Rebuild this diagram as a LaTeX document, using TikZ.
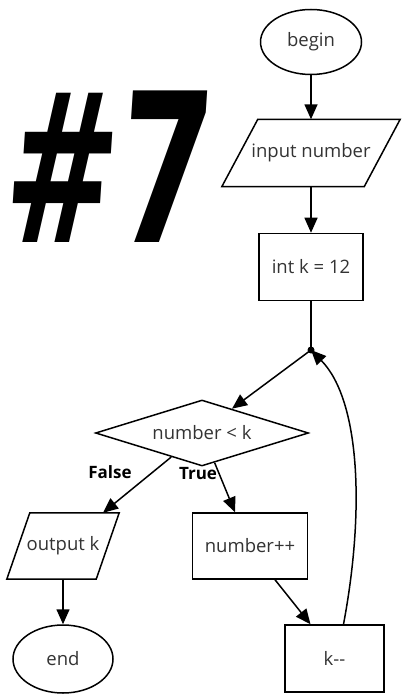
\documentclass[tikz,border=0pt]{standalone}
\usepackage{fontspec}
\setmainfont{Open Sans}
\newfontfamily\bigfont{DejaVu Sans}
\usetikzlibrary{shapes.geometric,arrows.meta,calc}
\begin{document}
\begin{tikzpicture}[x=1pt,y=-1pt,
  every node/.style={font=\fontsize{18.5}{20}\selectfont, text=black!80},
  line/.style={line width=1.5pt},
  arr/.style={line width=1.5pt,-{Triangle[length=15pt,width=13pt]}},
  proc/.style={draw,line width=1.5pt,inner sep=0pt},
  term/.style={draw,ellipse,line width=1.5pt,inner sep=0pt},
  io/.style={inner sep=0pt},
  dec/.style={draw,diamond,aspect=3,line width=1.5pt,inner sep=0pt},
  lab/.style={font=\bfseries\fontsize{17}{19}\selectfont, text=black}]
\useasboundingbox (0,0) rectangle (410,700);
\node[font=\bigfont\bfseries\fontsize{208}{208}\selectfont, text=black, xscale=0.65, xslant=0.1, anchor=base west, inner sep=0pt] (title) at (1,243) {\raisebox{0pt}[\height][0pt]{\#7}};
\node[term, minimum width=101, minimum height=65] (begin) at (311,42) {begin};
\node[io, minimum width=142, minimum height=67] (inp) at (311,153) {input number};
\draw[line] ($(inp.north west)+(18,0)$) -- ($(inp.north east)+(18,0)$) -- ($(inp.south east)+(-18,0)$) -- ($(inp.south west)+(-18,0)$) -- cycle;
\node[proc, minimum width=104, minimum height=67] (init) at (311,267) {int k = 12};
\coordinate (j) at (311,350);
\fill (j) circle (3.5);
\node[dec, minimum width=213, minimum height=66] (dec) at (202,433) {number < k};
\node[io, minimum width=89, minimum height=66] (outk) at (63,546) {output k};
\draw[line] ($(outk.north west)+(11.5,0)$) -- ($(outk.north east)+(11.5,0)$) -- ($(outk.south east)+(-11.5,0)$) -- ($(outk.south west)+(-11.5,0)$) -- cycle;
\node[term, minimum width=100, minimum height=68] (end) at (63,659) {end};
\node[proc, minimum width=115, minimum height=66] (num) at (250,546) {number++};
\node[proc, minimum width=99, minimum height=67] (kdec) at (334.5,658.5) {k{-}{-}};
\node[lab] (lf) at (110,472) {False};
\node[lab] (lt) at (198,474) {True};
\draw[arr] (begin) -- (inp);
\draw[arr] (inp) -- (init);
\draw[line] (init) -- (j);
\draw[arr] (j) -- (dec.39);
\draw[arr] (dec.218) -- ($(outk.north)+(40,0)$);
\draw[arr] (dec.293) -- ($(num.north)+(-15,0)$);
\draw[arr] (outk) -- (end);
\draw[arr] ($(num.south)+(25,0)$) -- ($(kdec.north)+(-24,0)$);
\draw[arr] ($(kdec.north)+(9,0)$) .. controls (365,510) and (360,400) .. (j);
\end{tikzpicture}
\end{document}
